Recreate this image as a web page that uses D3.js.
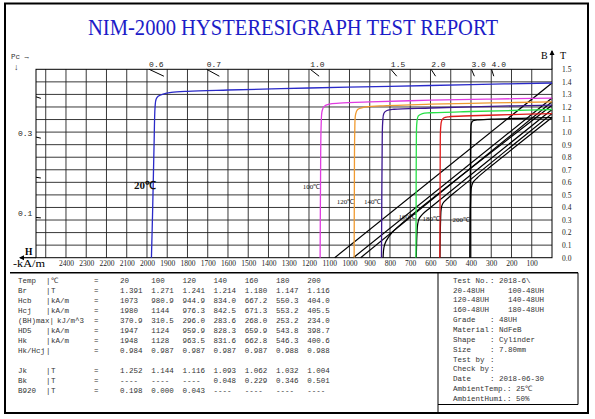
<!DOCTYPE html>
<html>
<head>
<meta charset="utf-8">
<script src="https://cdn.jsdelivr.net/npm/d3@7"></script>
<style>
  body { margin: 0; background: #fff; }
  svg { display: block; }
  text { font-family: "Liberation Serif", serif; }
  text.mono, .mono text { font-family: "Liberation Mono", "DejaVu Sans Mono", monospace; }
</style>
</head>
<body>
<svg id="chart" width="595" height="419"></svg>
<script>
// axis ticks
var hTicks = [2400, 2300, 2200, 2100, 2000, 1900, 1800, 1700, 1600, 1500, 1400, 1300, 1200, 1100, 1000, 900, 800, 700, 600, 500, 400, 300, 200, 100]
var bTicks = [0.0, 0.1, 0.2, 0.3, 0.4, 0.5, 0.6, 0.7, 0.8, 0.9, 1.0, 1.1, 1.2, 1.3, 1.4, 1.5]
var hGrid = [100, 200, 300, 400, 500, 600, 700, 800, 900, 1000, 1100, 1200, 1300, 1400, 1500, 1600, 1700, 1800, 1900, 2000, 2100, 2200, 2300, 2400, 2500]
var pcTop = [0.6, 0.7, 1.0, 1.5, 2.0, 3.0, 4.0]
var pcLeft = [0.1, 0.2, 0.3, 0.4]
var pcLeftLabels = [0.1, 0.3]

// J curves [H kA/m, J T]
var j20 = [[0, 1.391], [400, 1.378], [800, 1.364], [1200, 1.351], [1600, 1.335], [1800, 1.325], [1880, 1.316], [1920, 1.303], [1945, 1.285], [1955, 1.262], [1960, 1.2], [1965, 0.9], [1972, 0.38], [1978, 0]]
var j100 = [[0, 1.271], [300, 1.263], [600, 1.254], [900, 1.24], [1050, 1.23], [1100, 1.222], [1125, 1.205], [1135, 1.17], [1140, 1.05], [1143, 0.6], [1145, 0]]
var j120 = [[0, 1.241], [300, 1.232], [600, 1.222], [850, 1.208], [930, 1.197], [960, 1.18], [970, 1.14], [974, 1.0], [976, 0.5], [977, 0]]
var j140 = [[0, 1.214], [300, 1.205], [600, 1.192], [780, 1.182], [815, 1.172], [830, 1.15], [836, 1.08], [839, 0.8], [841, 0.3], [842, 0]]
var j160 = [[0, 1.18], [200, 1.172], [400, 1.164], [600, 1.154], [640, 1.148], [660, 1.13], [667, 1.08], [670, 0.9], [671, 0.4], [672, 0]]
var j180 = [[0, 1.147], [200, 1.139], [400, 1.13], [510, 1.122], [535, 1.112], [545, 1.09], [550, 1.03], [552, 0.8], [553, 0.3], [554, 0]]
var j200 = [[0, 1.116], [150, 1.11], [300, 1.103], [370, 1.097], [390, 1.09], [398, 1.07], [401, 1.0], [403, 0.7], [404, 0.3], [405, 0]]

// B curves [H kA/m, B T]
var b20 = [[0, 1.391], [1073, 0]]
var b100 = [[0, 1.271], [980.9, 0]]
var b120 = [[0, 1.241], [944.9, 0]]
var b140 = [[0, 1.214], [700, 0.33], [790, 0.2], [820, 0.13], [830, 0.08], [834, 0]]
var b160 = [[0, 1.18], [600, 0.4], [640, 0.345], [655, 0.315], [663, 0.27], [667, 0.18], [669, 0.08], [670, 0]]
var b180 = [[0, 1.147], [450, 0.56], [520, 0.465], [540, 0.43], [547, 0.39], [550, 0.3], [552, 0.15], [553, 0]]
var b200 = [[0, 1.116], [300, 0.73], [370, 0.635], [390, 0.6], [398, 0.56], [402, 0.45], [404, 0.3], [405, 0]]

// results table
var temps = ['20', '100', '120', '140', '160', '180', '200']
var rowNames = ['Temp', 'Br', 'Hcb', 'Hcj', '(BH)max|', 'HD5', 'Hk', 'Hk/Hcj', '', 'Jk', 'Bk', 'B920']
var rowUnits = ['\u2103', 'T', 'kA/m', 'kA/m', 'kJ/m^3', 'kA/m', 'kA/m', '', '', 'T', 'T', 'T']
var brVals = ['1.391', '1.271', '1.241', '1.214', '1.180', '1.147', '1.116']
var hcbVals = ['1073', '980.9', '944.9', '834.0', '667.2', '550.3', '404.0']
var hcjVals = ['1980', '1144', '976.3', '842.5', '671.3', '553.2', '405.5']
var bhVals = ['370.9', '310.5', '296.0', '283.6', '268.0', '253.2', '234.0']
var hd5Vals = ['1947', '1124', '959.9', '828.3', '659.9', '543.8', '398.7']
var hkVals = ['1948', '1128', '963.5', '831.6', '662.8', '546.3', '400.6']
var ratioVals = ['0.984', '0.987', '0.987', '0.987', '0.987', '0.988', '0.988']
var jkVals = ['1.252', '1.144', '1.116', '1.093', '1.062', '1.032', '1.004']
var bkVals = ['----', '----', '----', '0.048', '0.229', '0.346', '0.501']
var b920Vals = ['0.198', '0.000', '0.043', '----', '----', '----', '----']

var infoLines = [
  ['Test No.', ': 2018-6\\'],
  ['20-48UH', '100-48UH'],
  ['120-48UH', '140-48UH'],
  ['160-48UH', '180-48UH'],
  ['Grade', ': 48UH'],
  ['Material', ': NdFeB'],
  ['Shape', ': Cylinder'],
  ['Size', ': 7.80mm'],
  ['Test by', ':'],
  ['Check by', ':'],
  ['Date', ': 2018-06-30'],
  ['AmbientTemp.: 25\u2103', null],
  ['AmbientHumi.: 50%', null]
]

var curveColors = ['#2a2ac8', '#e03ce0', '#f09a30', '#3c1890', '#28e048', '#e01c1c', '#000']
var jCurves = [j20, j100, j120, j140, j160, j180, j200]
var bCurves = [b20, b100, b120, b140, b160, b180, b200]
var mu0 = 4 * Math.PI * 1e-4   // T per kA/m

var svg = d3.select('#chart')
var x = d3.scaleLinear().domain([2548, 0]).range([36, 552])
var y = d3.scaleLinear().domain([0, 1.5]).range([257.7, 69.3])

// outer frame
svg.append('rect').attr('x', 5).attr('y', 3.5).attr('width', 583).attr('height', 409.5)
  .attr('fill', 'none').attr('stroke', '#000').attr('stroke-width', 2)

svg.append('text').text('NIM-2000 HYSTERESIGRAPH TEST REPORT')
  .attr('x', 88).attr('y', 35).attr('textLength', 410).attr('lengthAdjust', 'spacingAndGlyphs')
  .attr('font-size', 23).attr('fill', '#1c1cc8')

// grid
var grid = svg.append('g').attr('stroke', '#222').attr('stroke-width', 0.9)
grid.selectAll('line.v').data(hGrid).enter().append('line')
  .attr('x1', function(d) { return x(d) }).attr('x2', function(d) { return x(d) })
  .attr('y1', y(0)).attr('y2', y(1.5))
grid.selectAll('line.h').data(bTicks.slice(1, -1)).enter().append('line')
  .attr('y1', function(d) { return y(d) }).attr('y2', function(d) { return y(d) })
  .attr('x1', x(2548)).attr('x2', x(0))
svg.append('rect').attr('x', x(2548)).attr('y', y(1.5))
  .attr('width', x(0) - x(2548)).attr('height', y(0) - y(1.5))
  .attr('fill', 'none').attr('stroke', '#000').attr('stroke-width', 1)

// axes
var bottomAxis = d3.axisBottom(x).tickValues(hTicks).tickFormat(d3.format('d')).tickSize(0).tickPadding(3)
var gb = svg.append('g').attr('transform', 'translate(0,' + y(0) + ')').call(bottomAxis)
gb.select('.domain').remove()
gb.selectAll('text').attr('font-size', 7.5).attr('fill', '#222')
  .attr('font-family', '"Liberation Serif", serif')

var rightAxis = d3.axisRight(y).tickValues(bTicks).tickFormat(d3.format('.1f')).tickSize(0).tickPadding(10)
var gr = svg.append('g').attr('transform', 'translate(' + x(0) + ',0)').call(rightAxis)
gr.select('.domain').remove()
gr.selectAll('text').attr('font-size', 7.5).attr('fill', '#222')
  .attr('font-family', '"Liberation Serif", serif')

// axis arrows
svg.append('line').attr('x1', x(0)).attr('x2', x(0)).attr('y1', y(1.5)).attr('y2', 51)
  .attr('stroke', '#000').attr('stroke-width', 1.2)
svg.append('path').attr('d', 'M' + x(0) + ',50 l-2.5,5 l5,0 z').attr('fill', '#000')
svg.append('line').attr('x1', x(2548)).attr('x2', 20).attr('y1', y(0)).attr('y2', y(0))
  .attr('stroke', '#000').attr('stroke-width', 1.2)
svg.append('path').attr('d', 'M19,' + y(0) + ' l5,-2.5 l0,5 z').attr('fill', '#000')
svg.append('text').text('B').attr('x', 541).attr('y', 59).attr('font-size', 10)
svg.append('text').text('T').attr('x', 560).attr('y', 59).attr('font-size', 10)
svg.append('text').text('H').attr('x', 25).attr('y', 255).attr('font-size', 9.5).attr('font-weight', 'bold')
svg.append('text').text('-kA/m').attr('x', 13).attr('y', 267).attr('font-size', 10.5)
  .attr('textLength', 32).attr('lengthAdjust', 'spacingAndGlyphs')
svg.append('text').text('Pc \u2192').attr('class', 'mono').attr('x', 11).attr('y', 59).attr('font-size', 7.5).attr('fill', '#333')
svg.append('text').text('\u2193').attr('x', 14).attr('y', 70).attr('font-size', 9).attr('fill', '#333')

// permeance marks along load lines B = mu0*Pc*H
var ticks = svg.append('g').attr('stroke', '#000').attr('stroke-width', 1)
ticks.selectAll('line.top').data(pcTop).enter().append('line')
  .attr('x1', function(d) { return x(1.5 / (mu0 * d)) })
  .attr('y1', y(1.5))
  .attr('x2', function(d) { return x(1.445 / (mu0 * d)) })
  .attr('y2', y(1.445))
svg.selectAll('text.pctop').data(pcTop).enter().append('text')
  .attr('class', 'mono')
  .attr('x', function(d) { return x(1.5 / (mu0 * d)) })
  .attr('y', 67).attr('font-size', 8).attr('fill', '#222')
  .text(function(d) { return d3.format('.1f')(d) })
ticks.selectAll('line.left').data(pcLeft).enter().append('line')
  .attr('x1', x(2548)).attr('y1', function(d) { return y(mu0 * d * 2548) })
  .attr('x2', x(2524)).attr('y2', function(d) { return y(mu0 * d * 2524) })
svg.selectAll('text.pcleft').data(pcLeftLabels).enter().append('text')
  .attr('class', 'mono')
  .attr('x', 18).attr('y', function(d) { return y(mu0 * d * 2548) - 1 })
  .attr('font-size', 8).attr('fill', '#222')
  .text(function(d) { return d3.format('.1f')(d) })

// curves
var line = d3.line()
  .x(function(d) { return x(d[0]) })
  .y(function(d) { return y(d[1]) })
  .curve(d3.curveCatmullRom.alpha(0.5))

svg.append('g').selectAll('path').data(bCurves).enter().append('path')
  .attr('d', line).attr('fill', 'none').attr('stroke', '#000').attr('stroke-width', 1.2)
svg.append('g').selectAll('path').data(jCurves).enter().append('path')
  .attr('d', line).attr('fill', 'none')
  .attr('stroke', function(d, i) { return curveColors[i] }).attr('stroke-width', 1.3)

// temperature labels, placed at the left of each Hcj drop
var labelB = [0.57, 0.57, 0.45, 0.45, 0.33, 0.32, 0.31]
svg.append('g').selectAll('text').data(temps).enter().append('text')
  .attr('x', function(d, i) { return x(+hcjVals[i]) + (i === 0 ? 5 : 0) })
  .attr('y', function(d, i) { return y(labelB[i]) + 3 })
  .attr('text-anchor', 'end')
  .attr('font-size', function(d, i) { return i === 0 ? 11 : 7 })
  .attr('font-weight', function(d, i) { return i === 0 ? 'bold' : 'normal' })
  .attr('fill', '#111')
  .text(function(d) { return d + '\u2103' })

// table frame
var frame = svg.append('g').attr('stroke', '#000').attr('fill', 'none')
frame.append('line').attr('x1', 10).attr('x2', 578).attr('y1', 272.7).attr('y2', 272.7).attr('stroke-width', 1.5)
frame.append('line').attr('x1', 438).attr('x2', 438).attr('y1', 272.7).attr('y2', 413).attr('stroke-width', 1)
frame.append('line').attr('x1', 578).attr('x2', 578).attr('y1', 272.7).attr('y2', 404.5).attr('stroke-width', 1)
frame.append('line').attr('x1', 438).attr('x2', 578).attr('y1', 404.5).attr('y2', 404.5).attr('stroke-width', 1)

var rowVals = [temps, brVals, hcbVals, hcjVals, bhVals, hd5Vals, hkVals, ratioVals, null, jkVals, bkVals, b920Vals]
var tbl = svg.append('g').attr('class', 'mono').attr('font-size', 7.5).attr('fill', '#333')
rowNames.forEach(function(name, r) {
  var ty = 283 + r * 10
  if (rowVals[r] === null) return
  tbl.append('text').attr('x', 18).attr('y', ty).text(name)
  if (r !== 4) tbl.append('text').attr('x', 46).attr('y', ty).text('|')
  tbl.append('text').attr('x', r === 4 ? 57 : 51).attr('y', ty).text(rowUnits[r])
  tbl.append('text').attr('x', 94).attr('y', ty).text('=')
  rowVals[r].forEach(function(v, c) {
    tbl.append('text').attr('x', 120 + c * 31.2).attr('y', ty).text(v)
  })
})

var info = svg.append('g').attr('class', 'mono').attr('font-size', 7.5).attr('fill', '#333')
infoLines.forEach(function(l, r) {
  var ty = 282.7 + r * 9.85
  info.append('text').attr('x', 453).attr('y', ty).text(l[0])
  if (l[1] === null) return
  var isGrade = l[1].charAt(0) !== ':'
  info.append('text').attr('x', isGrade ? 508 : 490).attr('y', ty).text(l[1])
})
</script>
</body>
</html>
